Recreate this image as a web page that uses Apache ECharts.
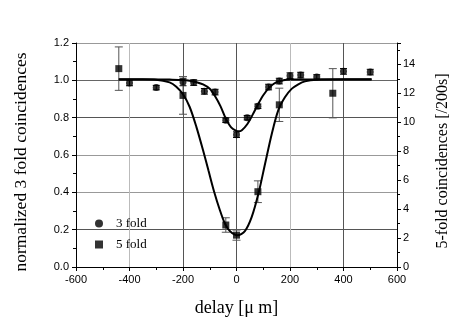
<!DOCTYPE html>
<html>
<head>
<meta charset="utf-8">
<script src="https://cdn.jsdelivr.net/npm/echarts@6/dist/echarts.min.js"></script>
<style>
  html, body { margin: 0; padding: 0; background: #fff; }
  #chart { width: 459px; height: 320px; }
</style>
</head>
<body>
<div id="chart"></div>
<script>
// 3 fold points (left axis, normalized)
const delay3 = [-400, -300, -200, -160, -120, -80, -40, 0, 40, 80, 120, 160, 200, 240, 300, 400, 500];
const fold3 = [0.986, 0.961, 0.991, 0.988, 0.941, 0.937, 0.786, 0.709, 0.800, 0.861, 0.964, 0.996, 1.025, 1.028, 1.018, 1.048, 1.044];
const fold3Err = [0.015, 0.012, 0.02, 0.015, 0.015, 0.015, 0.012, 0.015, 0.012, 0.012, 0.015, 0.015, 0.015, 0.015, 0.012, 0.015, 0.015];

// 5 fold points (right axis, counts per 200 s)
const delay5 = [-440, -200, -40, 0, 80, 160, 360];
const fold5 = [13.7, 11.85, 2.9, 2.2, 5.2, 11.2, 12.0];
const fold5Err = [1.5, 1.3, 0.5, 0.35, 0.75, 1.15, 1.7];

// fitted curves
const fit3X = [-440, -300, -250, -200, -175, -150, -125, -100, -80, -60, -40, -20, 0, 8, 20, 40, 60, 80, 100, 125, 150, 175, 200, 250, 300, 400, 505];
const fit3Y = [1.005, 1.005, 1.004, 1.002, 0.998, 0.99, 0.978, 0.955, 0.915, 0.862, 0.795, 0.748, 0.729, 0.727, 0.733, 0.765, 0.815, 0.87, 0.92, 0.965, 0.99, 1.0, 1.004, 1.005, 1.005, 1.005, 1.005];
const fit5X = [-440, -350, -300, -250, -225, -200, -175, -150, -125, -105, -85, -62, -43, -24, 4, 32, 57, 82, 107, 132, 156, 181, 206, 231, 256, 300, 400, 505];
const fit5Y = [12.96, 12.96, 12.94, 12.75, 12.45, 11.93, 11.05, 9.68, 8.06, 6.68, 5.29, 3.92, 2.99, 2.47, 2.19, 2.5, 3.46, 5.07, 7.15, 9.21, 10.82, 11.72, 12.3, 12.62, 12.82, 12.93, 12.96, 12.96];

const xTicks = { min: -600, max: 600, interval: 200 };
const leftTicks = { min: 0, max: 1.2, interval: 0.2 };
const rightTicks = { min: 0, max: 15.47, interval: 2 };

const chart = echarts.init(document.getElementById('chart'));

const sans = 'Liberation Sans';
const serif = 'Liberation Serif';

function errorBars(xs, ys, es, yIdx, color, cap) {
    return {
        type: 'custom',
        yAxisIndex: yIdx,
        silent: true,
        z: 3,
        encode: { x: 0, y: [1, 2] },
        data: xs.map((x, i) => [x, ys[i] - es[i], ys[i] + es[i]]),
        renderItem: function (params, api) {
            const lo = api.coord([api.value(0), api.value(1)]);
            const hi = api.coord([api.value(0), api.value(2)]);
            const st = { stroke: color, lineWidth: 1 };
            return {
                type: 'group',
                children: [
                    { type: 'line', shape: { x1: lo[0], y1: lo[1], x2: hi[0], y2: hi[1] }, style: st },
                    { type: 'line', shape: { x1: lo[0] - cap, y1: lo[1], x2: lo[0] + cap, y2: lo[1] }, style: st },
                    { type: 'line', shape: { x1: hi[0] - cap, y1: hi[1], x2: hi[0] + cap, y2: hi[1] }, style: st }
                ]
            };
        }
    };
}

const option = {
    animation: false,
    backgroundColor: '#fff',
    grid: { left: 76, right: 62, top: 43, bottom: 53, outerBoundsMode: 'none' },
    legend: {
        orient: 'vertical',
        left: 90,
        top: 212,
        itemGap: 8,
        itemWidth: 8,
        itemHeight: 8,
        data: [{ name: '3 fold', icon: 'circle' }, { name: '5 fold', icon: 'rect' }],
        textStyle: { fontFamily: serif, fontSize: 13, color: '#000', padding: [0, 0, 0, 8] }
    },
    xAxis: {
        type: 'value',
        min: xTicks.min,
        max: xTicks.max,
        interval: xTicks.interval,
        name: 'delay [μ m]',
        nameLocation: 'middle',
        nameGap: 32,
        nameTextStyle: { fontFamily: serif, fontSize: 18, color: '#000' },
        axisLine: { onZero: false, lineStyle: { color: '#000', width: 1 } },
        axisTick: { length: 4, lineStyle: { color: '#000' } },
        minorTick: { show: true, splitNumber: 2, length: 3, lineStyle: { color: '#000' } },
        axisLabel: { fontFamily: sans, fontSize: 11, color: '#000', margin: 7 },
        splitLine: {
            show: true,
            lineStyle: { color: ['#555', '#bbb', '#555', '#555', '#bbb', '#555', '#555'], width: 1 }
        }
    },
    yAxis: [
        {
            type: 'value',
            min: leftTicks.min,
            max: leftTicks.max,
            interval: leftTicks.interval,
            name: 'normalized 3 fold coincidences',
            nameLocation: 'middle',
            nameGap: 46,
            nameTextStyle: { fontFamily: serif, fontSize: 17.5, color: '#000', padding: [0, 14, 0, 0] },
            axisLine: { show: true, onZero: false, lineStyle: { color: '#000' } },
            axisTick: { length: 4, lineStyle: { color: '#000' } },
            minorTick: { show: true, splitNumber: 2, length: 3, lineStyle: { color: '#000' } },
            axisLabel: {
                fontFamily: sans, fontSize: 11, color: '#000', margin: 7,
                formatter: v => v.toFixed(1)
            },
            splitLine: {
                show: true,
                lineStyle: { color: ['#000', '#555', '#999', '#999', '#555', '#666', '#999'], width: 1 }
            }
        },
        {
            type: 'value',
            position: 'right',
            min: rightTicks.min,
            max: rightTicks.max,
            interval: rightTicks.interval,
            name: '5-fold coincidences [/200s]',
            nameLocation: 'middle',
            nameGap: 38,
            nameRotate: 90,
            nameTextStyle: { fontFamily: serif, fontSize: 16, color: '#000', padding: [0, 12, 0, 0] },
            axisLine: { show: true, onZero: false, lineStyle: { color: '#000' } },
            axisTick: { length: 4, lineStyle: { color: '#000' } },
            minorTick: { show: true, splitNumber: 2, length: 3, lineStyle: { color: '#000' } },
            axisLabel: {
                fontFamily: sans, fontSize: 11, color: '#000', margin: 6,
                formatter: v => (Math.abs(v % 2) < 1e-6 ? String(v) : '')
            },
            splitLine: { show: false }
        }
    ],
    series: [
        {
            name: '3 fold fit',
            type: 'line',
            yAxisIndex: 0,
            data: fit3X.map((x, i) => [x, fit3Y[i]]),
            smooth: 0.3,
            showSymbol: false,
            silent: true,
            lineStyle: { color: '#000', width: 2 },
            z: 4
        },
        {
            name: '5 fold fit',
            type: 'line',
            yAxisIndex: 1,
            data: fit5X.map((x, i) => [x, fit5Y[i]]),
            smooth: 0.3,
            showSymbol: false,
            silent: true,
            lineStyle: { color: '#000', width: 2 },
            z: 4
        },
        errorBars(delay3, fold3, fold3Err, 0, '#000', 3.5),
        errorBars(delay5, fold5, fold5Err, 1, '#555', 4),
        {
            name: '3 fold',
            type: 'scatter',
            yAxisIndex: 0,
            symbol: 'circle',
            symbolSize: 7,
            itemStyle: { color: '#000' },
            data: delay3.map((x, i) => [x, fold3[i]]),
            z: 5
        },
        {
            name: '5 fold',
            type: 'scatter',
            yAxisIndex: 1,
            symbol: 'rect',
            symbolSize: 7,
            itemStyle: { color: '#000' },
            data: delay5.map((x, i) => [x, fold5[i]]),
            z: 5
        }
    ]
};

chart.setOption(option);
</script>
</body>
</html>
